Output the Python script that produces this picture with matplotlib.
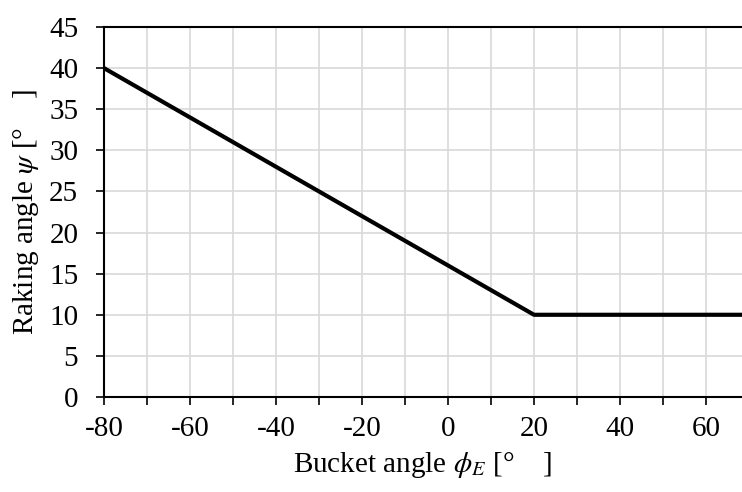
import matplotlib.pyplot as plt

# data
bucket_angle = [-80, 20, 70]
raking_angle = [40, 10, 10]

x_ticks = list(range(-80, 70, 20))
x_minor = list(range(-80, 70, 10))
y_ticks = list(range(0, 46, 5))

plt.rcParams['font.family'] = ['Liberation Serif', 'DejaVu Serif']
plt.rcParams['mathtext.fontset'] = 'stix'

fig = plt.figure(figsize=(7.42, 4.92), dpi=100)
ax = fig.add_axes([104 / 742, 1 - 397 / 492, (742 - 104) / 742, (397 - 27) / 492])

ax.plot(bucket_angle, raking_angle, color='black', linewidth=3.0, solid_capstyle='butt',
        zorder=3)

ax.set_xlim(-80, -80 + (742 - 104) / 4.3)
ax.set_ylim(0, 45)
ax.set_xticks(x_ticks)
ax.set_xticks(x_minor, minor=True)
ax.set_yticks(y_ticks)
ax.set_xticklabels([str(v) for v in x_ticks])

ax.grid(True, which='both', axis='x', color='#d9d9d9', linewidth=1.2)
ax.grid(True, which='major', axis='y', color='#d9d9d9', linewidth=1.2)
ax.set_axisbelow(True)

for side in ['left', 'bottom', 'top']:
    ax.spines[side].set_linewidth(1.5)
    ax.spines[side].set_color('black')
ax.spines['right'].set_visible(False)

ax.tick_params(axis='both', which='both', direction='out', length=5.5, width=1.2,
               labelsize=21, color='black')
ax.tick_params(axis='x', pad=8)
ax.tick_params(axis='y', pad=13)

ax.set_xlabel('Bucket angle $\\phi_E$ [°    ]', fontsize=21, labelpad=6)
ax.set_ylabel('Raking angle $\\psi$ [°    ]', fontsize=21, labelpad=6)

fig.savefig('out.png', dpi=100)
